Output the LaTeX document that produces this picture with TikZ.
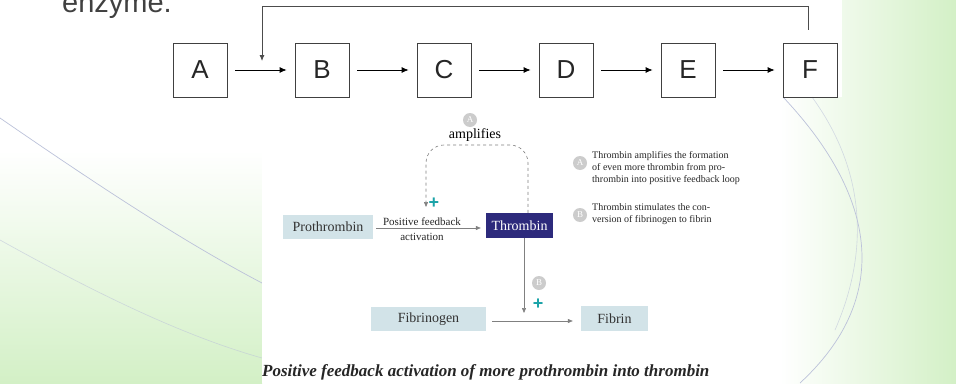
\documentclass[tikz,border=0pt]{standalone}
\usepackage{fontspec}
\setmainfont{Liberation Sans}
\newfontfamily\figfont{Liberation Serif}
\usepackage{tikz}
\usetikzlibrary{positioning,arrows.meta,calc}
\definecolor{boxblue}{HTML}{D2E3E8}
\definecolor{navy}{HTML}{2D2A7C}
\definecolor{plusteal}{HTML}{1BA3A8}
\definecolor{slidegreen}{HTML}{D3F0C6}
\definecolor{curvegray}{HTML}{BCC2DA}

\begin{document}
\begin{tikzpicture}[x=1pt,y=-1pt,every node/.style={inner sep=0pt},
  stage/.style={draw=black!75,line width=0.8pt,minimum size=54pt,text=black!85,font=\fontsize{26}{26}\selectfont},
  link/.style={line width=0.8pt,-{Latex[length=7pt,width=6pt]},shorten <=8pt,shorten >=8pt},
  factor/.style={fill=boxblue,minimum height=24pt,text=black!80,font=\figfont\fontsize{14}{14}\selectfont},
  flow/.style={gray,line width=0.6pt,-{Triangle[length=5pt,width=4pt]}},
  tag/.style={circle,fill=gray!40,minimum size=14pt,text=white,font=\figfont\fontsize{9}{9}\selectfont},
  posmark/.style={text=plusteal,font=\bfseries\fontsize{18}{18}\selectfont},
  note/.style={align=left,anchor=north west,text=black!85,font=\figfont\fontsize{10}{12.3}\selectfont}]
  \useasboundingbox (0,0) rectangle (956,383);
  % slide background
  \fill[white] (0,0) rectangle (956,383);
  \shade[top color=white,bottom color=slidegreen] (0,150) rectangle (262,383);
  \shade[left color=white,right color=slidegreen] (780,0) rectangle (956,383);
  \fill[white] (230,0) rectangle (842,97);
  \draw[curvegray,line width=0.7pt] (0,118) .. controls (90,180) and (180,240) .. (262,283);
  \draw[curvegray,line width=0.6pt,opacity=.6] (0,240) .. controls (90,290) and (180,335) .. (262,358);
  \draw[curvegray,line width=0.7pt] (783,97) .. controls (880,200) and (890,300) .. (800,383);
  \draw[curvegray,line width=0.6pt,opacity=.6] (812,97) .. controls (865,170) and (870,250) .. (835,330);
  \fill[white] (262,97) rectangle (770,383);
  \node[anchor=base west,text=black!75,font=\fontsize{29}{29}\selectfont] (lead) at (62,12) {enzyme.};
  % reaction chain A..F
  \foreach \n/\x in {A/200,B/322,C/444,D/566,E/688,F/810}
    \node[stage] (\n) at (\x,70) {\n};
  \foreach \a/\b in {A/B,B/C,C/D,D/E,E/F}
    \draw[link] (\a) -- (\b);
  % feedback from F back onto A->B
  \coordinate (fbin) at (262,61);
  \draw[line width=0.8pt,black!70,-{Latex[length=6pt,width=5pt]}] ([xshift=-2pt,yshift=13pt]F.north) -- ++(0,-23) -| (fbin);
  % thrombin figure
  \node[tag] (tA) at (470,120) {A};
  \node[font=\figfont\fontsize{14}{14}\selectfont] (amp) at (475,135) {amplifies};
  \node[factor,minimum width=90pt] (pro) at (328,226.5) {Prothrombin};
  \node[factor,fill=navy,text=white,minimum width=67pt,minimum height=25pt] (thr) at (519.5,225.5) {Thrombin};
  \node[align=center,text=black!85,font=\figfont\fontsize{11}{15}\selectfont] (pfa) at (422,229) {Positive feedback\\activation};
  \draw[flow,shorten <=3pt,shorten >=5pt] (pro.east |- 0,228) -- (thr.west |- 0,228);
  \coordinate (looptop) at (426,145);
  \coordinate (loopin) at (426,207);
  \draw[flow,dashed,rounded corners=18pt] ([xshift=8.5pt]thr.north) |- (looptop) -- (loopin);
  \node[posmark] (p1) at (434,203) {+};
  % legend
  \node[tag] (kA) at (580,163) {A};
  \node[note] (nA) at (592,151) {Thrombin amplifies the formation\\of even more thrombin from pro-\\thrombin into positive feedback loop};
  \node[tag] (kB) at (580,215) {B};
  \node[note] (nB) at (592,203) {Thrombin stimulates the con-\\version of fibrinogen to fibrin};
  % fibrinogen to fibrin
  \coordinate (fibin) at (524,313);
  \draw[flow] ([xshift=4.5pt]thr.south) -- (fibin);
  \node[tag] (tB) at (539,283) {B};
  \node[posmark] (p2) at (538,304) {+};
  \node[factor,minimum width=115pt] (fgn) at (428.5,319) {Fibrinogen};
  \node[factor,minimum width=67pt,minimum height=25pt] (fbn) at (614.5,318.5) {Fibrin};
  \draw[flow,shorten <=6pt,shorten >=8pt] (fgn.east |- 0,321) -- (fbn.west |- 0,321);
  \node[anchor=base west,text=black!85,font=\figfont\bfseries\itshape\fontsize{17}{17}\selectfont] (cap) at (262,376) {Positive feedback activation of more prothrombin into thrombin};
\end{tikzpicture}
\end{document}
